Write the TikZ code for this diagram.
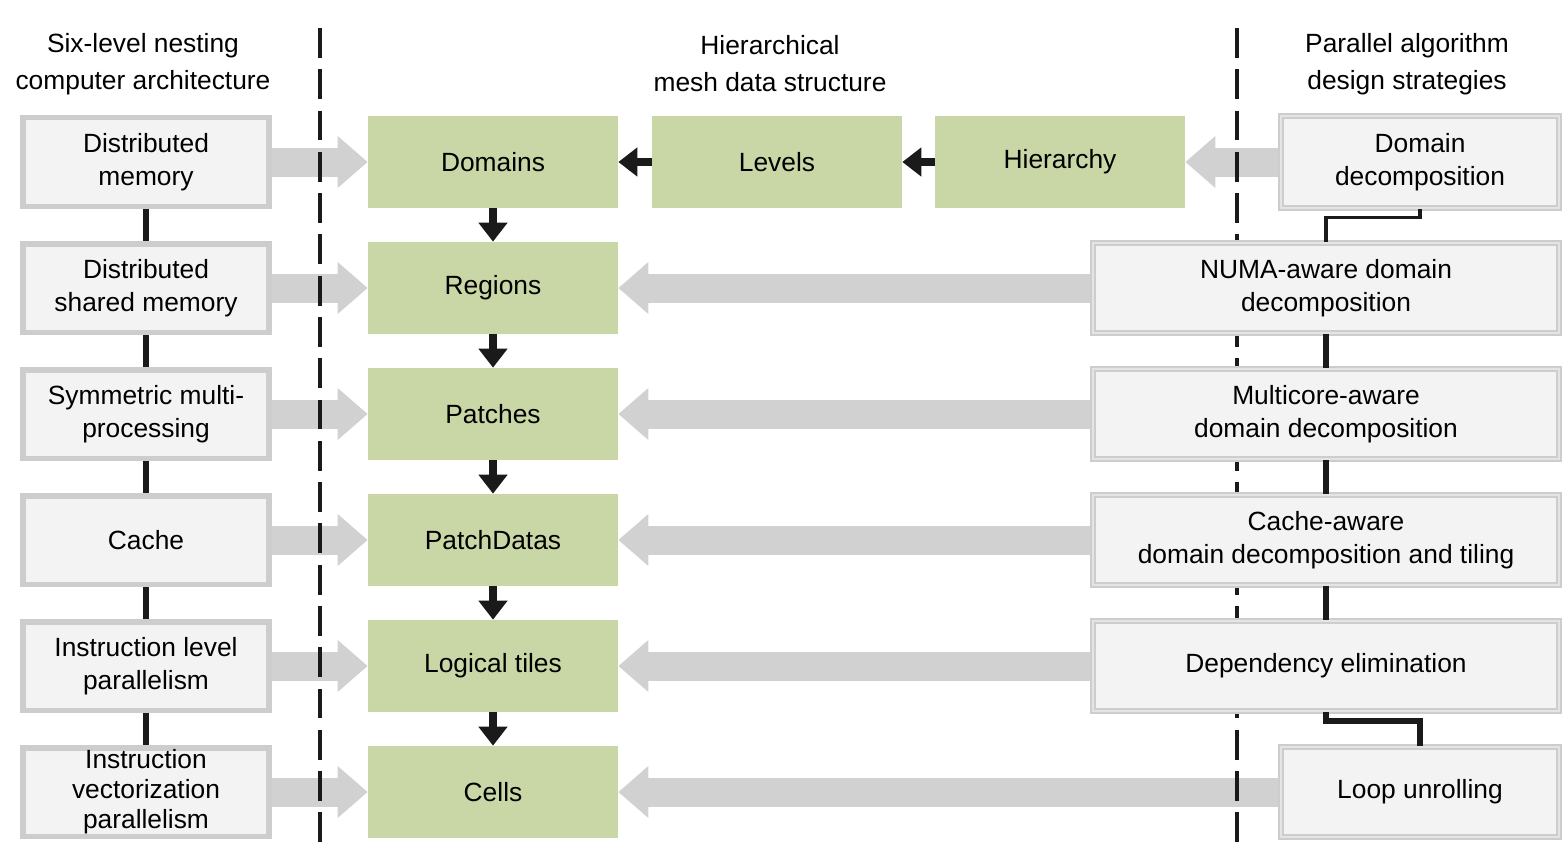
\documentclass[tikz,border=0pt]{standalone}
\usepackage{fontspec}
\setmainfont{Liberation Sans}
\usetikzlibrary{arrows.meta}
\definecolor{boxfill}{HTML}{F3F3F3}
\definecolor{boxline}{HTML}{CDCDCD}
\definecolor{meshgreen}{HTML}{C9D6A5}
\definecolor{fatgray}{HTML}{D0D1D0}
\definecolor{ink}{HTML}{1A1A1A}
\pgfdeclarelayer{back}
\pgfdeclarelayer{mid}
\pgfsetlayers{back,mid,main}
\begin{document}
\begin{tikzpicture}[x=0.02cm, y=-0.02cm,
  every node/.style={font=\fontsize{15}{18.7}\selectfont, align=center, inner sep=0pt},
  arch node/.style={rectangle, draw=boxline, fill=boxfill, line width=3.4pt, minimum width=4.94cm, minimum height=1.78cm},
  mesh node/.style={rectangle, fill=meshgreen, minimum width=5cm, minimum height=1.84cm},
  algo node/.style={rectangle, draw=boxline, double=boxfill!60!boxline, double distance=1.6pt, line width=1pt, fill=boxfill, minimum height=1.8cm},
  head node/.style={font=\fontsize{15}{21}\selectfont},
  fat arrow/.style={draw=fatgray, line width=0.58cm, -{Triangle[length=0.6cm, width=1cm]}},
  dark arrow/.style={draw=ink, line width=4.2pt, -{Triangle[length=0.38cm, width=0.56cm]}},
  link/.style={draw=ink, line width=3pt},
  thin link/.style={draw=ink, line width=1.8pt},
  divider/.style={draw=ink, line width=2.2pt, dash pattern=on 17pt off 6.5pt}]
\useasboundingbox (0,0) rectangle (1564,842);
% column headings
\node[head node] (h1) at (143,64) {Six-level nesting\\computer architecture};
\node[head node] (h2) at (770,64) {Hierarchical\\mesh data structure};
\node[head node] (h3) at (1407,64) {Parallel algorithm\\design strategies};
% six-level architecture
\node[arch node] (a1) at (146,162) {Distributed\\memory};
\node[arch node] (a2) at (146,288) {Distributed\\shared memory};
\node[arch node] (a3) at (146,414) {Symmetric multi-\\processing};
\node[arch node] (a4) at (146,540) {Cache};
\node[arch node] (a5) at (146,666) {Instruction level\\parallelism};
\node[arch node, font=\fontsize{15}{17}\selectfont] (a6) at (146,792) {Instruction\\vectorization\\parallelism};
% mesh data structure
\node[mesh node] (m1) at (493,162) {Domains};
\node[mesh node] (m2) at (493,288) {Regions};
\node[mesh node] (m3) at (493,414) {Patches};
\node[mesh node] (m4) at (493,540) {PatchDatas};
\node[mesh node] (m5) at (493,666) {Logical tiles};
\node[mesh node] (m6) at (493,792) {Cells};
\node[mesh node] (lv) at (777,162) {Levels};
\node[mesh node] (hy) at (1060,162) {Hierarchy};
% parallel strategies
\node[algo node, minimum width=5.56cm, minimum height=1.84cm] (p1) at (1420,162) {Domain\\decomposition};
\node[algo node, minimum width=9.32cm] (p2) at (1326,288) {NUMA-aware domain\\decomposition};
\node[algo node, minimum width=9.32cm] (p3) at (1326,414) {Multicore-aware\\domain decomposition};
\node[algo node, minimum width=9.32cm] (p4) at (1326,540) {Cache-aware\\domain decomposition and tiling};
\node[algo node, minimum width=9.32cm] (p5) at (1326,666) {Dependency elimination};
\node[algo node, minimum width=5.56cm] (p6) at (1420,792) {Loop unrolling};
% dividers
\coordinate (d1) at (320,28);
\coordinate (d2) at (320,842);
\coordinate (d3) at (1237,28);
\coordinate (d4) at (1237,842);
\begin{pgfonlayer}{mid}
\draw[divider] (d1) -- (d2);
\draw[divider] (d3) -- (d4);
\end{pgfonlayer}
\begin{pgfonlayer}{back}
\foreach \i in {1,...,6} {
  \draw[fat arrow] (a\i) -- (m\i);
}
\foreach \i in {2,...,6} {
  \draw[fat arrow] (p\i) -- (m\i);
}
\draw[fat arrow] (p1) -- (hy);
\end{pgfonlayer}
\foreach \i/\j in {1/2,2/3,3/4,4/5,5/6} {
  \draw[link] (a\i) -- (a\j);
  \draw[dark arrow] (m\i) -- (m\j);
}
\draw[dark arrow] (lv) -- (m1);
\draw[dark arrow] (hy) -- (lv);
%\draw[link] (p1) -- (p2);
\draw[thin link] (p1.south) -- ++(0,9) -| (p2.north);
\draw[link] (p2) -- (p3);
\draw[link] (p3) -- (p4);
\draw[link] (p4) -- (p5);
\draw[link] (p5.south) -- ++(0,9) -| (p6.north);
\end{tikzpicture}
\end{document}
